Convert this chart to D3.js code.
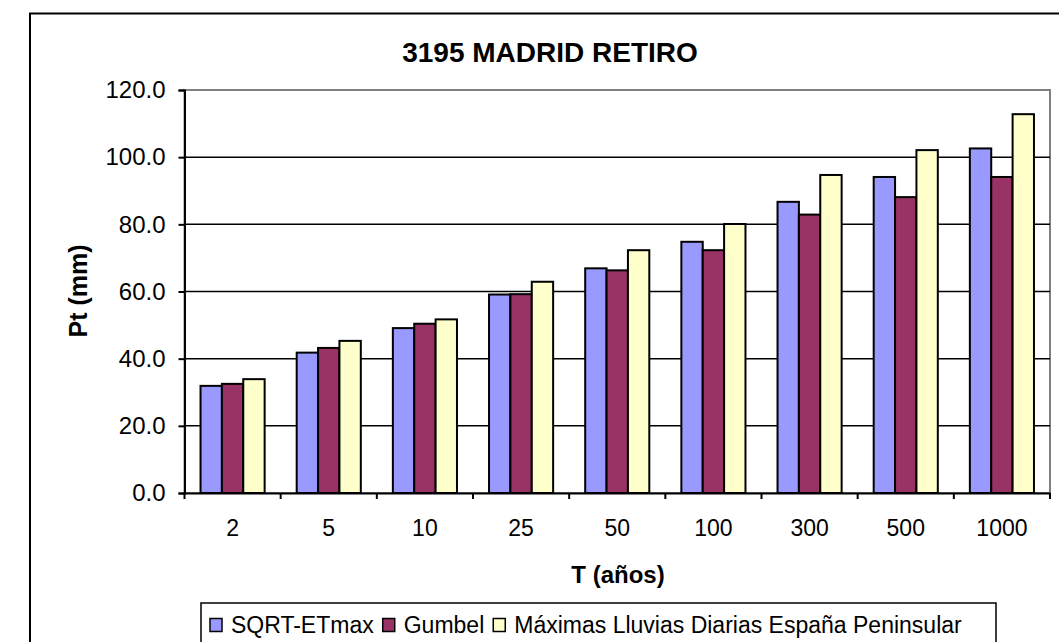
<!DOCTYPE html>
<html>
<head>
<meta charset="utf-8">
<script src="https://cdn.jsdelivr.net/npm/d3@7.9.0/dist/d3.min.js"></script>
<style>
  body { margin: 0; background: #fff; }
  svg { display: block; font-family: Arial, "Liberation Sans", sans-serif; }
</style>
</head>
<body>
<div id="chart"></div>
<script>
// return periods (years)
const periods = ['2', '5', '10', '25', '50', '100', '300', '500', '1000'];
const seriesNames = ['SQRT-ETmax', 'Gumbel', 'Máximas Lluvias Diarias España Peninsular'];
const sqrtEtmax = [31.9, 41.8, 49.1, 59.1, 66.9, 74.8, 86.7, 94.1, 102.6];
const gumbel = [32.5, 43.2, 50.4, 59.2, 66.3, 72.3, 82.9, 88.1, 94.1];
const maxLluvias = [33.9, 45.3, 51.7, 62.9, 72.3, 80.1, 94.7, 102.1, 112.8];
const yTicks = [0, 20, 40, 60, 80, 100, 120];
const colors = ['#9999ff', '#993366', '#ffffcc'];

const width = 1059;
const height = 642;

const allSeries = [sqrtEtmax, gumbel, maxLluvias];
const rows = periods.map((p, i) => ({
    period: p,
    values: seriesNames.map((s, j) => ({ series: s, value: allSeries[j][i] })),
}));

const svg = d3.select('#chart')
    .append('svg')
    .attr('width', width)
    .attr('height', height);

// outer chart frame (runs off the page on the right and bottom)
svg.append('rect')
    .attr('x', 30).attr('y', 13.5)
    .attr('width', 1060).attr('height', 660)
    .attr('fill', 'none')
    .attr('stroke', '#000')
    .attr('stroke-width', 2);

const plot = { left: 184.5, right: 1050, top: 90, bottom: 493 };

const x = d3.scaleBand()
    .domain(periods)
    .range([plot.left, plot.right])
    .paddingInner(0)
    .paddingOuter(0);

const step = x.step();
// Excel gap width 150%: 3 bars + 1.5 bar gap per category
const xSub = d3.scaleBand()
    .domain(seriesNames)
    .range([step * 0.75 / 4.5, step * 3.75 / 4.5]);

const y = d3.scaleLinear()
    .domain([0, 120])
    .range([plot.bottom, plot.top]);

const color = d3.scaleOrdinal().domain(seriesNames).range(colors);

// plot area border (grey)
svg.append('rect')
    .attr('x', plot.left).attr('y', plot.top)
    .attr('width', plot.right - plot.left)
    .attr('height', plot.bottom - plot.top)
    .attr('fill', 'none')
    .attr('stroke', '#808080')
    .attr('stroke-width', 2);

// gridlines
svg.append('g')
    .selectAll('line')
    .data(yTicks.filter(d => d > 0 && d < 120))
    .join('line')
    .attr('x1', plot.left).attr('x2', plot.right)
    .attr('y1', d => y(d)).attr('y2', d => y(d))
    .attr('stroke', '#000')
    .attr('stroke-width', 1.5);

// bars
svg.append('g')
    .selectAll('g')
    .data(rows)
    .join('g')
    .attr('transform', d => `translate(${x(d.period)},0)`)
    .selectAll('rect')
    .data(d => d.values)
    .join('rect')
    .attr('x', d => xSub(d.series))
    .attr('y', d => y(d.value))
    .attr('width', xSub.bandwidth())
    .attr('height', d => y(0) - y(d.value))
    .attr('fill', d => color(d.series))
    .attr('stroke', '#000')
    .attr('stroke-width', 2);

// y axis
const yAxis = svg.append('g')
    .attr('transform', `translate(${plot.left},0)`)
    .call(d3.axisLeft(y).tickValues(yTicks).tickFormat(d3.format('.1f')).tickSize(6).tickPadding(13));
yAxis.selectAll('path, line').attr('stroke', '#000').attr('stroke-width', 2);
yAxis.selectAll('text')
    .attr('font-size', 24)
    .attr('font-family', 'Arial, "Liberation Sans", sans-serif')
    .attr('fill', '#000');

// x axis: labels centred, ticks at category boundaries
const xAxis = svg.append('g')
    .attr('transform', `translate(0,${plot.bottom})`)
    .call(d3.axisBottom(x).tickSize(0).tickPadding(27).tickSizeOuter(0));
xAxis.select('.domain').attr('stroke', '#000').attr('stroke-width', 2);
xAxis.selectAll('text')
    .attr('font-size', 23)
    .attr('font-family', 'Arial, "Liberation Sans", sans-serif')
    .attr('fill', '#000');

const boundaries = periods.map(p => x(p)).concat([x(periods[periods.length - 1]) + step]);
svg.append('g')
    .selectAll('line')
    .data(boundaries)
    .join('line')
    .attr('x1', d => d).attr('x2', d => d)
    .attr('y1', plot.bottom).attr('y2', plot.bottom + 6)
    .attr('stroke', '#000')
    .attr('stroke-width', 2);

// title
svg.append('text')
    .attr('x', 550).attr('y', 62)
    .attr('text-anchor', 'middle')
    .attr('font-size', 28)
    .attr('font-weight', 'bold')
    .text('3195 MADRID RETIRO');

// axis titles
svg.append('text')
    .attr('transform', 'translate(87,291) rotate(-90)')
    .attr('text-anchor', 'middle')
    .attr('font-size', 25)
    .attr('font-weight', 'bold')
    .text('Pt (mm)');

svg.append('text')
    .attr('x', 618).attr('y', 583)
    .attr('text-anchor', 'middle')
    .attr('font-size', 24)
    .attr('font-weight', 'bold')
    .text('T (años)');

// legend
svg.append('rect')
    .attr('x', 201).attr('y', 603)
    .attr('width', 795).attr('height', 60)
    .attr('fill', '#fff')
    .attr('stroke', '#000')
    .attr('stroke-width', 1.5);

const legend = svg.append('g');
let lx = 210;
seriesNames.forEach(name => {
    legend.append('rect')
        .attr('x', lx).attr('y', 618.5)
        .attr('width', 12).attr('height', 13)
        .attr('fill', color(name))
        .attr('stroke', '#000')
        .attr('stroke-width', 1.5);
    const t = legend.append('text')
        .attr('x', lx + 21).attr('y', 633)
        .attr('font-size', 23)
        .text(name);
    lx += 21 + t.node().getComputedTextLength() + 9;
});
</script>
</body>
</html>
